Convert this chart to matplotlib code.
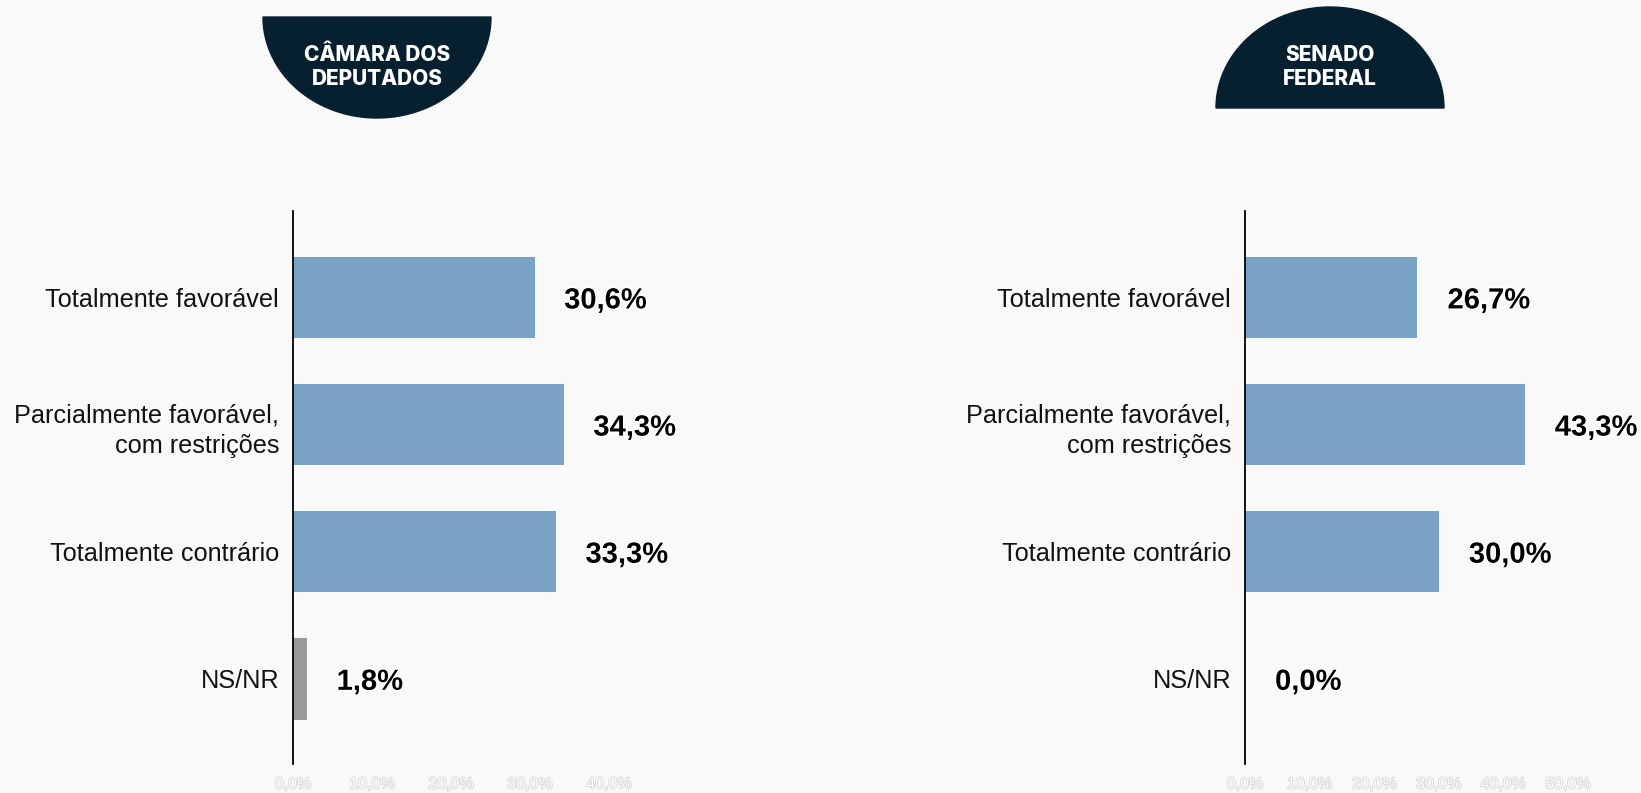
import numpy as np
import matplotlib
matplotlib.use("Agg")
import matplotlib.pyplot as plt
import matplotlib.patheffects as pe
from matplotlib.patches import Polygon

# Données
CATEGORIES = ["Totalmente favorável", "Parcialmente favorável,\ncom restrições",
              "Totalmente contrário", "NS/NR"]
CAMARA = [30.6, 34.3, 33.3, 1.8]
SENADO = [26.7, 43.3, 30.0, 0.0]
CAMARA_TICKS = [0, 10, 20, 30, 40]
SENADO_TICKS = [0, 10, 20, 30, 40, 50]

BG = "#f9f9f9"
BLUE = "#7aa2c4"
GREY = "#999999"
NAVY = "#06202f"

W, H = 1641, 793
fig = plt.figure(figsize=(W / 100, H / 100), dpi=100, facecolor=BG)


def fmt(v):
    return f"{v:.1f}".replace(".", ",") + "%"


def panel(rect, values, ticks, xmax):
    ax = fig.add_axes(rect)
    ax.set_facecolor(BG)
    y = np.arange(len(CATEGORIES))
    colors = [BLUE] * (len(values) - 1) + [GREY]
    ax.barh(y, values, height=0.64, color=colors)
    ax.set_xlim(0, xmax)
    ax.set_ylim(len(CATEGORIES) - 0.33, -0.68)
    ax.set_yticks(y)
    ax.set_yticklabels(CATEGORIES, fontsize=18.2, family="Liberation Sans",
                       color="#111111", linespacing=1.35)
    ax.set_xticks(ticks)
    ax.set_xticklabels([fmt(t) for t in ticks], fontsize=11.5,
                       family="Liberation Sans", color="white",
                       path_effects=[pe.withStroke(linewidth=1.2, foreground="#d6d6d6")])
    ax.tick_params(length=0)
    ax.tick_params(axis="y", pad=10)
    ax.tick_params(axis="x", pad=9)
    for s in ["top", "right", "bottom"]:
        ax.spines[s].set_visible(False)
    ax.spines["left"].set_color("black")
    ax.spines["left"].set_linewidth(1.3)
    # étiquettes de valeur
    off = xmax * 0.093
    for yi, v in zip(y, values):
        ax.text(v + off, yi, fmt(v), va="center_baseline", ha="left", fontsize=21,
                fontweight="bold", family="Liberation Sans", color="black",
                path_effects=[pe.withStroke(linewidth=2.5, foreground="white")])
    return ax


panel([293 / W, 1 - 764 / H, 316 / W, 553 / H], CAMARA, CAMARA_TICKS, 40)
panel([1245 / W, 1 - 764 / H, 323 / W, 553 / H], SENADO, SENADO_TICKS, 50)

# ── En-têtes demi-cercles ─────────────────────────────────────────────────
over = fig.add_axes([0, 0, 1, 1])
over.set_xlim(0, W)
over.set_ylim(H, 0)
over.axis("off")

t = np.linspace(0, np.pi, 120)
# Chambre : demi-ellipse vers le bas
cx, cy, rx, ry = 377, 17, 114, 101
pts = np.column_stack([cx + rx * np.cos(t), cy + ry * np.sin(t)])
over.add_patch(Polygon(pts, closed=True, color=NAVY))
# Sénat : demi-ellipse vers le haut
cx2, cy2 = 1330, 108
pts2 = np.column_stack([cx2 + rx * np.cos(t), cy2 - ry * np.sin(t)])
over.add_patch(Polygon(pts2, closed=True, color=NAVY))

hdr = dict(color="white", fontsize=15, fontweight="heavy", family="Inter",
           ha="center", va="center")
over.text(377, 55, "CÂMARA DOS", **hdr)
over.text(377, 79, "DEPUTADOS", **hdr)
over.text(1330, 55, "SENADO", **hdr)
over.text(1330, 79, "FEDERAL", **hdr)

fig.savefig("out.png", dpi=100, facecolor=BG)
